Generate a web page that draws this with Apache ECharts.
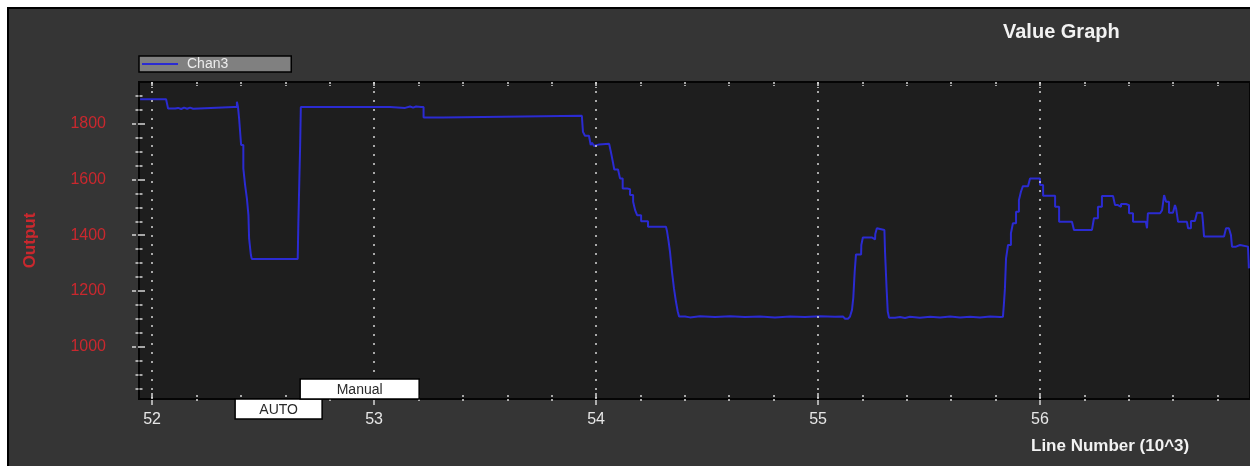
<!DOCTYPE html>
<html>
<head>
<meta charset="utf-8">
<title>Value Graph</title>
<script src="https://cdn.jsdelivr.net/npm/echarts@6/dist/echarts.min.js"></script>
<style>
  html, body { margin: 0; padding: 0; background: #fff; width: 1250px; height: 466px; overflow: hidden; }
  #panel { position: absolute; left: 7px; top: 7px; width: 1262px; height: 472px; background: #353535; border: 2px solid #000; box-sizing: border-box; }
  #chart { position: absolute; left: 0; top: 0; width: 1250px; height: 466px; }
</style>
</head>
<body>
<div id="panel"></div>
<div id="chart"></div>
<script>
// Chan3 output against log line number (in thousands)
const lineNumbers = [
  51.946, 52.063, 52.072, 52.104, 52.117, 52.131, 52.144, 52.158, 52.171, 52.185,
  52.194, 52.369, 52.382, 52.387, 52.392, 52.401, 52.411, 52.419, 52.427, 52.434,
  52.437, 52.445, 52.449, 52.656, 52.659, 52.667, 52.670, 53.072, 53.077, 53.140,
  53.149, 53.162, 53.176, 53.189, 53.212, 53.223, 53.311, 53.320, 53.936, 53.941,
  53.950, 53.968, 53.971, 53.976, 53.982, 53.991, 54.000, 54.014, 54.059, 54.068,
  54.077, 54.082, 54.099, 54.108, 54.120, 54.140, 54.144, 54.153, 54.167, 54.176,
  54.185, 54.203, 54.234, 54.315, 54.320, 54.327, 54.333, 54.342, 54.351, 54.360,
  54.368, 54.374, 54.401, 54.423, 54.468, 54.536, 54.604, 54.671, 54.739, 54.806,
  54.874, 54.941, 55.009, 55.077, 55.113, 55.122, 55.135, 55.144, 55.152, 55.153,
  55.159, 55.165, 55.171, 55.194, 55.195, 55.201, 55.202, 55.242, 55.246, 55.257,
  55.258, 55.264, 55.265, 55.272, 55.273, 55.299, 55.302, 55.309, 55.314, 55.320,
  55.347, 55.369, 55.392, 55.414, 55.459, 55.505, 55.550, 55.595, 55.640, 55.685,
  55.730, 55.775, 55.820, 55.833, 55.838, 55.842, 55.847, 55.856, 55.869, 55.878,
  55.892, 55.905, 55.914, 55.923, 55.946, 55.955, 55.986, 56.000, 56.014, 56.054,
  56.068, 56.086, 56.144, 56.153, 56.234, 56.243, 56.261, 56.279, 56.329, 56.338,
  56.351, 56.365, 56.387, 56.401, 56.419, 56.477, 56.482, 56.486, 56.541, 56.550,
  56.559, 56.568, 56.581, 56.599, 56.608, 56.613, 56.622, 56.662, 56.667, 56.680,
  56.698, 56.707, 56.730, 56.734, 56.739, 56.829, 56.838, 56.851, 56.860, 56.865,
  56.883, 56.901, 56.937, 56.941
];
const chan3 = [
  1888, 1888, 1855, 1857, 1853, 1858, 1854, 1858, 1854, 1857,
  1860, 1860, 1879, 1860, 1819, 1724, 1640, 1580, 1532, 1472,
  1389, 1329, 1315, 1315, 1448, 1724, 1860, 1860, 1857, 1857,
  1862, 1858, 1862, 1860, 1860, 1823, 1823, 1829, 1829, 1771,
  1757, 1757, 1763, 1724, 1732, 1720, 1726, 1728, 1728, 1694,
  1658, 1636, 1636, 1604, 1568, 1572, 1565, 1544, 1520, 1490,
  1472, 1450, 1430, 1430, 1413, 1377, 1341, 1269, 1209, 1161,
  1126, 1108, 1105, 1109, 1106, 1109, 1106, 1108, 1105, 1108,
  1106, 1109, 1107, 1108, 1108, 1100, 1102, 1108, 1108, 1132,
  1177, 1267, 1331, 1331, 1365, 1365, 1392, 1392, 1385, 1385,
  1404, 1404, 1425, 1425, 1419, 1419, 1337, 1207, 1126, 1104,
  1106, 1103, 1107, 1104, 1107, 1105, 1108, 1105, 1107, 1105,
  1108, 1106, 1107, 1107, 1160, 1210, 1317, 1365, 1407, 1443,
  1484, 1526, 1556, 1576, 1583, 1604, 1604, 1580, 1542, 1542,
  1502, 1448, 1448, 1419, 1419, 1461, 1502, 1541, 1541, 1508,
  1502, 1512, 1508, 1479, 1448, 1448, 1425, 1479, 1479, 1490,
  1544, 1520, 1481, 1481, 1508, 1496, 1448, 1448, 1425, 1451,
  1451, 1481, 1481, 1448, 1395, 1395, 1425, 1425, 1401, 1359,
  1365, 1359, 1359, 1281
];

// Flight mode changes (line number, thousands)
const modeNames = ['AUTO', 'Manual'];
const modeStarts = [52.374, 52.667];

// Axis ticks
const xTickLabels = [52, 53, 54, 55, 56];
const xMinorTicks = [
  52.2, 52.4, 52.6, 52.8, 53.2, 53.4, 53.6, 53.8, 54.2, 54.4, 54.6, 54.8,
  55.2, 55.4, 55.6, 55.8, 56.2, 56.4, 56.6, 56.8
];
const yTickLabels = [1000, 1200, 1400, 1600, 1800];
const yMinorTicks = [
  850, 900, 950, 1050, 1100, 1150, 1250, 1300, 1350, 1450, 1500, 1550,
  1650, 1700, 1750, 1850, 1900
];

const X_MIN = 51.941, X_MAX = 56.946;
const Y_MIN = 812, Y_MAX = 1950;

const FONT = '"Liberation Sans", Arial, sans-serif';
const TICK_COLOR = '#d6d6d6';
const LABEL_RED = '#c9282e';
const LINE_BLUE = '#2b2bd2';
const MODE_BOX_WIDTH = { AUTO: 87, Manual: 119 };
const MODE_BOX_HEIGHT = 20;

const chart = echarts.init(document.getElementById('chart'), null, { renderer: 'canvas' });

function xAxisBase(extra) {
  return Object.assign({
    type: 'value', min: X_MIN, max: X_MAX,
    axisLine: { show: false, onZero: false },
    axisLabel: { show: false },
    axisTick: { show: false },
    splitLine: { show: false }
  }, extra);
}
function yAxisBase(extra) {
  return Object.assign({
    type: 'value', min: Y_MIN, max: Y_MAX,
    axisLine: { show: false, onZero: false },
    axisLabel: { show: false },
    axisTick: { show: false },
    splitLine: { show: false }
  }, extra);
}

const option = {
  animation: false,
  backgroundColor: 'transparent',
  textStyle: { fontFamily: FONT },
  title: [
    {
      text: 'Value Graph', left: 1003, top: 22, padding: 0,
      textStyle: { color: '#f2f2f2', fontSize: 20, fontWeight: 'bold', fontFamily: FONT }
    },
    {
      text: 'Line Number (10^3)', left: 1031, top: 438, padding: 0,
      textStyle: { color: '#f2f2f2', fontSize: 17, fontWeight: 'bold', fontFamily: FONT }
    }
  ],
  legend: {
    data: ['Chan3'],
    left: 139, top: 56,
    orient: 'horizontal',
    backgroundColor: '#808080',
    borderColor: '#000', borderWidth: 1.5,
    padding: [1, 63, 1, 3],
    icon: 'rect', itemWidth: 36, itemHeight: 2,
    selectedMode: false,
    textStyle: { color: '#ececec', fontSize: 14, fontFamily: FONT, padding: [0, 0, 0, 4] }
  },
  grid: {
    left: 139, top: 82, right: 0, bottom: 67,
    show: true, backgroundColor: '#1e1e1e',
    borderColor: '#050505', borderWidth: 2
  },
  xAxis: [
    xAxisBase({
      position: 'bottom',
      axisLine: { show: true, onZero: false, lineStyle: { color: '#050505', width: 2 } },
      axisLabel: {
        show: true, customValues: xTickLabels, margin: 13,
        color: '#e6e6e6', fontSize: 16, fontFamily: FONT
      }
    }),
    xAxisBase({
      position: 'bottom', offset: -6,
      axisTick: { show: true, customValues: xTickLabels, length: 12,
        lineStyle: { color: TICK_COLOR, width: 1.5, type: [5, 2] } }
    }),
    xAxisBase({
      position: 'bottom', offset: -4,
      axisTick: { show: true, customValues: xMinorTicks, length: 8,
        lineStyle: { color: TICK_COLOR, width: 1.5, type: [2, 2] } }
    }),
    xAxisBase({
      position: 'top',
      axisTick: { show: true, inside: true, customValues: xTickLabels, length: 6,
        lineStyle: { color: TICK_COLOR, width: 1.5, type: [4, 1] } }
    }),
    xAxisBase({
      position: 'top',
      axisTick: { show: true, inside: true, customValues: xMinorTicks, length: 4,
        lineStyle: { color: TICK_COLOR, width: 1.5, type: [2, 1] } }
    })
  ],
  yAxis: [
    yAxisBase({
      position: 'left',
      name: 'Output', nameLocation: 'middle', nameGap: 100,
      nameTextStyle: { color: LABEL_RED, fontSize: 17, fontWeight: 'bold', fontFamily: FONT },
      axisLine: { show: true, onZero: false, lineStyle: { color: '#050505', width: 2 } },
      axisLabel: {
        show: true, customValues: yTickLabels, margin: 33,
        formatter: v => String(v),
        color: LABEL_RED, fontSize: 16, fontFamily: FONT
      }
    }),
    yAxisBase({
      position: 'left', offset: -6,
      axisTick: { show: true, customValues: yTickLabels, length: 13,
        lineStyle: { color: TICK_COLOR, width: 1.5, type: [7, 2] } }
    }),
    yAxisBase({
      position: 'left', offset: -3.5,
      axisTick: { show: true, customValues: yMinorTicks, length: 7,
        lineStyle: { color: TICK_COLOR, width: 1.5, type: [3, 1] } }
    })
  ],
  series: [
    {
      // dotted vertical grid lines at the major line-number ticks
      name: 'grid', type: 'line', xAxisIndex: 0, yAxisIndex: 0,
      data: [], z: 1, silent: true,
      markLine: {
        silent: true, symbol: ['none', 'none'], animation: false,
        label: { show: false },
        lineStyle: { color: '#d8d8d8', width: 1.5, type: [2, 7] },
        data: xTickLabels.map(v => ({ xAxis: v }))
      }
    },
    {
      name: 'Chan3', type: 'line', xAxisIndex: 0, yAxisIndex: 0,
      data: lineNumbers.map((x, i) => [x, chan3[i]]),
      step: 'end',
      showSymbol: false, symbol: 'none', z: 3,
      color: LINE_BLUE,
      itemStyle: { color: LINE_BLUE },
      lineStyle: { color: LINE_BLUE, width: 2 }
    },
    {
      // flight mode tags along the bottom edge of the plot
      name: 'modes', type: 'custom', xAxisIndex: 0, yAxisIndex: 0,
      z: 10, silent: true, clip: false,
      data: modeStarts.map(x => [x, Y_MIN]),
      renderItem: function (params, api) {
        const label = modeNames[params.dataIndex];
        const base = api.coord([api.value(0), api.value(1)]);
        const w = MODE_BOX_WIDTH[label];
        const h = MODE_BOX_HEIGHT;
        const top = params.dataIndex % 2 === 0 ? base[1] : base[1] - h;
        return {
          type: 'group',
          children: [
            {
              type: 'rect',
              shape: { x: base[0], y: top, width: w, height: h },
              style: { fill: '#ffffff', stroke: '#000000', lineWidth: 1.5 }
            },
            {
              type: 'text',
              style: {
                text: label, x: base[0] + w / 2, y: top + h / 2 + 1,
                align: 'center', verticalAlign: 'middle',
                fill: '#2a2a2a', font: '14px ' + FONT
              }
            }
          ]
        };
      }
    }
  ]
};

chart.setOption(option);
</script>
</body>
</html>
